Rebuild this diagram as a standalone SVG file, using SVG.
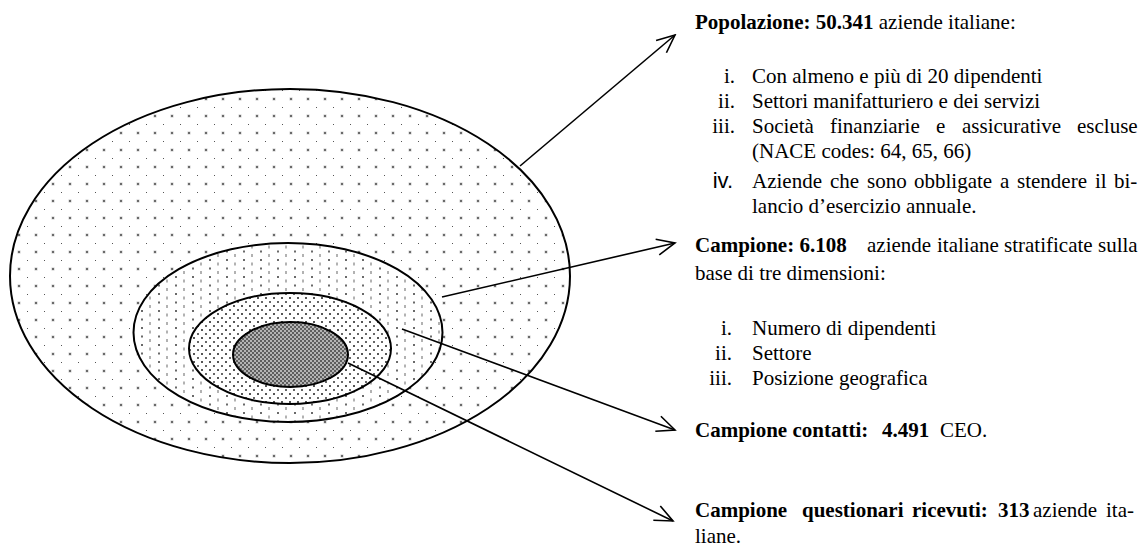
<svg xmlns="http://www.w3.org/2000/svg" width="1145" height="547" viewBox="0 0 1145 547">
  <style>
    .ring { stroke: #000; stroke-width: 2; }
    .txt { font-family: "Liberation Serif", "Times New Roman", serif; font-size: 21px; fill: #000; }
    .b { font-weight: bold; }
    .lbl { text-anchor: end; }
    .arrow { stroke: #000; stroke-width: 1.6; fill: none; marker-end: url(#head); }
  </style>
  <defs>
    <!-- sparse dot screen for the population -->
    <pattern id="dotsOuter" patternUnits="userSpaceOnUse" x="15" y="10" width="17" height="17">
      <rect width="17" height="17" fill="#fff"/>
      <rect x="2.5" y="2.5" width="3" height="3" fill="#c8c8c8"/>
      <rect x="3" y="3" width="2" height="2" fill="#6a6a6a"/>
      <rect x="12" y="12" width="1" height="1" fill="#555"/>
    </pattern>
    <!-- column dot screen for the sample -->
    <pattern id="dotsMid" patternUnits="userSpaceOnUse" x="2" y="2" width="17" height="17">
      <rect width="17" height="17" fill="#fff"/>
      <rect x="3" y="2" width="2" height="2" fill="#6a6a6a"/>
      <rect x="3" y="10.5" width="2" height="2" fill="#6a6a6a"/>
      <rect x="11.5" y="5.5" width="1" height="3" fill="#666"/>
      <rect x="11.5" y="14" width="1" height="3" fill="#666"/>
    </pattern>
    <!-- dense staggered dots for contacted firms -->
    <pattern id="dotsInner" patternUnits="userSpaceOnUse" width="8" height="8">
      <rect width="8" height="8" fill="#fff"/>
      <rect x="1" y="1" width="2" height="2" fill="#555"/>
      <rect x="5" y="5" width="2" height="2" fill="#666"/>
    </pattern>
    <!-- fine checker for responding firms -->
    <pattern id="checker" patternUnits="userSpaceOnUse" width="4" height="4">
      <rect width="4" height="4" fill="#b4b4b4"/>
      <rect x="0" y="0" width="2" height="2" fill="#5e5e5e"/>
      <rect x="2" y="2" width="2" height="2" fill="#5e5e5e"/>
    </pattern>
    <marker id="head" markerUnits="userSpaceOnUse" viewBox="-20 -10 22 20" markerWidth="22" markerHeight="20" refX="0" refY="0" orient="auto">
      <path d="M-18,-8 L0,0 L-18,8" fill="none" stroke="#000" stroke-width="1.6"/>
    </marker>
  </defs>

  <rect width="1145" height="547" fill="#fff"/>

  <g id="popolazione">
    <ellipse class="ring" cx="290" cy="276" rx="280" ry="187" fill="url(#dotsOuter)"/>
  </g>
  <g id="campione">
    <ellipse class="ring" cx="288" cy="332.5" rx="154.5" ry="89.5" fill="url(#dotsMid)"/>
  </g>
  <g id="campione-contatti">
    <ellipse class="ring" cx="290" cy="348.5" rx="101" ry="55.5" fill="url(#dotsInner)"/>
  </g>
  <g id="questionari-ricevuti">
    <ellipse class="ring" cx="290.5" cy="354.5" rx="57.5" ry="32.5" fill="url(#checker)"/>
  </g>

  <g id="connectors">
    <line class="arrow" x1="520" y1="166" x2="675" y2="35"/>
    <line class="arrow" x1="442" y1="297" x2="675" y2="243"/>
    <line class="arrow" x1="402" y1="329" x2="675" y2="430"/>
    <line class="arrow" x1="348" y1="363" x2="673" y2="521"/>
  </g>

  <g id="testo-popolazione" class="txt" font-family="Liberation Serif, Times New Roman, serif">
    <text x="695" y="29"><tspan class="b">Popolazione: 50.341</tspan> aziende italiane:</text>
    <text class="lbl" x="735" y="83">i.</text>
    <text x="752" y="83">Con almeno e più di 20 dipendenti</text>
    <text class="lbl" x="735" y="108">ii.</text>
    <text x="752" y="108">Settori manifatturiero e dei servizi</text>
    <text class="lbl" x="735" y="133">iii.</text>
    <text y="133"><tspan x="752">Società</tspan><tspan x="830">finanziarie</tspan><tspan x="936">e</tspan><tspan x="962">assicurative</tspan><tspan x="1077">escluse</tspan></text>
    <text x="752" y="158">(NACE codes: 64, 65, 66)</text>
    <text x="733" y="188" text-anchor="end" font-family="Liberation Sans, Arial, sans-serif" font-size="22">iv.</text>
    <text y="188"><tspan x="752">Aziende</tspan><tspan x="830">che</tspan><tspan x="867">sono</tspan><tspan x="914">obbligate</tspan><tspan x="1000">a</tspan><tspan x="1017">stendere</tspan><tspan x="1095">il</tspan><tspan x="1114">bi-</tspan></text>
    <text x="752" y="213">lancio d’esercizio annuale.</text>
  </g>

  <g id="testo-campione" class="txt" font-family="Liberation Serif, Times New Roman, serif">
    <text y="252"><tspan class="b" x="695">Campione: 6.108</tspan><tspan x="867">aziende</tspan><tspan x="937">italiane</tspan><tspan x="1004">stratificate</tspan><tspan x="1098">sulla</tspan></text>
    <text x="695" y="280">base di tre dimensioni:</text>
    <text class="lbl" x="732" y="335">i.</text>
    <text x="752" y="335">Numero di dipendenti</text>
    <text class="lbl" x="732" y="360">ii.</text>
    <text x="752" y="360">Settore</text>
    <text class="lbl" x="732" y="385">iii.</text>
    <text x="752" y="385">Posizione geografica</text>
  </g>

  <g id="testo-contatti" class="txt" font-family="Liberation Serif, Times New Roman, serif">
    <text y="437"><tspan class="b" x="695">Campione contatti:</tspan><tspan class="b" x="882">4.491</tspan><tspan x="940">CEO.</tspan></text>
  </g>

  <g id="testo-ricevuti" class="txt" font-family="Liberation Serif, Times New Roman, serif">
    <text y="517"><tspan class="b" x="695">Campione</tspan><tspan class="b" x="802">questionari</tspan><tspan class="b" x="912">ricevuti:</tspan><tspan class="b" x="998">313</tspan><tspan x="1033">aziende</tspan><tspan x="1106">ita-</tspan></text>
    <text x="695" y="543">liane.</text>
  </g>
</svg>
